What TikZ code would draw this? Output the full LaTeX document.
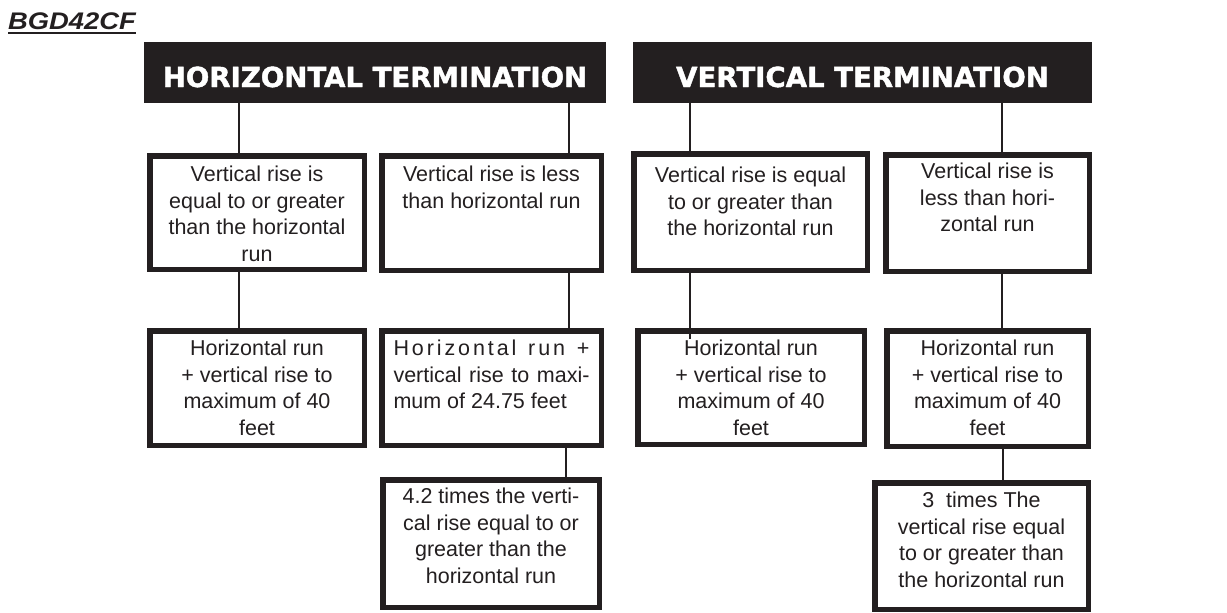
\documentclass[tikz,border=0pt]{standalone}
\usepackage{fontspec}
\usepackage{graphicx}
\setmainfont{Liberation Sans}
\newfontfamily\headfont[FakeBold=1.6]{DejaVu Sans}
\definecolor{ink}{RGB}{35,31,32}
\begin{document}
\begin{tikzpicture}[x=1pt,y=-1pt,
  hbar/.style={fill=ink, draw=none, inner sep=0pt, outer sep=0pt},
  box/.style={draw=ink, line width=5.5pt, inner sep=0pt, outer sep=0pt, fill=white},
  txt/.style={inner sep=0pt, outer sep=0pt, align=center, text=ink, anchor=north,
    font=\fontsize{21.5}{26.7}\selectfont},
  htxt/.style={text=white, inner sep=0pt, anchor=base,
    font=\headfont\bfseries\fontsize{27.6}{30}\selectfont},
  conn/.style={draw=ink, line width=2pt}]
\useasboundingbox (0,0) rectangle (1227,613);

% title
\node[inner sep=0pt, anchor=base west, text=ink,
  font=\fontsize{24}{26}\selectfont\bfseries\itshape] (bgd) at (8,30) {\scalebox{1.14}[1]{BGD42CF}};
\draw[ink, line width=2pt] ([yshift=-3pt]bgd.base west) -- ([yshift=-3pt]bgd.base east);

% headers
\node[hbar, minimum width=462pt, minimum height=61pt] (hh) at (375,72.5) {};
\node[htxt] (hht) at (375,87) {HORIZONTAL TERMINATION};
\node[hbar, minimum width=459pt, minimum height=61pt] (hv) at (862.5,72.5) {};
\node[htxt] (hvt) at (862.5,87) {VERTICAL TERMINATION};

% boxes
\node[box, minimum width=214.5pt, minimum height=113.5pt] (b1) at (257,212.5) {};
\node[box, minimum width=219.5pt, minimum height=114.5pt] (b2) at (491.5,213) {};
\node[box, minimum width=233.5pt, minimum height=116.5pt] (b3) at (750.5,212) {};
\node[box, minimum width=203.5pt, minimum height=116.5pt] (b4) at (987.5,213) {};
\node[box, minimum width=214.5pt, minimum height=114.5pt] (b5) at (257,388) {};
\node[box, minimum width=219.5pt, minimum height=114.5pt] (b6) at (491.5,388) {};
\node[box, minimum width=226.5pt, minimum height=113.5pt] (b7) at (751,387.5) {};
\node[box, minimum width=201.5pt, minimum height=115.5pt] (b8) at (987.5,388.5) {};
\node[box, minimum width=216.5pt, minimum height=127.5pt] (b9) at (491,543.5) {};
\node[box, minimum width=213.5pt, minimum height=126.5pt] (b10) at (981.5,546) {};

% texts
\node[txt] (t1) at (257,166) {Vertical rise is\\equal to or greater\\than the horizontal\\run};
\node[txt] (t2) at (491.5,166) {Vertical rise is less\\than horizontal run};
\node[txt] (t3) at (750.5,167) {Vertical rise is equal\\to or greater than\\the horizontal run};
\node[txt] (t4) at (987.5,163) {Vertical rise is\\less than hori-\\zontal run};
\node[txt] (t5) at (257,340) {Horizontal run\\+ vertical rise to\\maximum of 40\\feet};
\node[txt] (t6) at (491.5,340) {\parbox{196pt}{\makebox[\linewidth][s]{H\hfil o\hfil r\hfil i\hfil z\hfil o\hfil n\hfil t\hfil a\hfil l\hfil\ \hfil r\hfil u\hfil n\hfil\ \hfil +}\\\makebox[\linewidth][s]{vertical rise to maxi-}\\mum of 24.75 feet}};
\node[txt] (t7) at (751,340) {Horizontal run\\+ vertical rise to\\maximum of 40\\feet};
\node[txt] (t8) at (987.5,340) {Horizontal run\\+ vertical rise to\\maximum of 40\\feet};
\node[txt] (t9) at (491,488) {4.2 times the verti-\\cal rise equal to or\\greater than the\\horizontal run};
\node[txt] (t10) at (981.5,492) {3\ \ times The\\vertical rise equal\\to or greater than\\the horizontal run};

% connector columns
\coordinate (xa) at (239,0);
\coordinate (xb) at (569,0);
\coordinate (xg) at (566,0);
\coordinate (xc) at (689.5,0);
\coordinate (xd) at (1002,0);
\coordinate (xj) at (1003,0);

\draw[conn] (hh.south -| xa) -- (b1.north -| xa);
\draw[conn] (hh.south -| xb) -- (b2.north -| xb);
\draw[conn] (hv.south -| xc) -- (b3.north -| xc);
\draw[conn] (hv.south -| xd) -- (b4.north -| xd);
\draw[conn] (b1.south -| xa) -- (b5.north -| xa);
\draw[conn] (b2.south -| xb) -- (b6.north -| xb);
\draw[conn, shorten >=-8pt] (b3.south -| xc) -- (b7.north -| xc);
\draw[conn] (b4.south -| xd) -- (b8.north -| xd);
\draw[conn] (b6.south -| xg) -- (b9.north -| xg);
\draw[conn] (b8.south -| xj) -- (b10.north -| xj);
\end{tikzpicture}
\end{document}
